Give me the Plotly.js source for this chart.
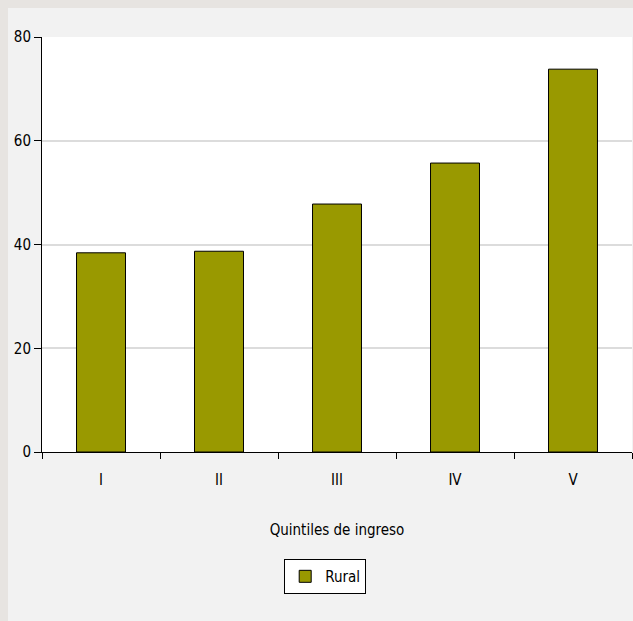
<!DOCTYPE html>
<html>
<head>
<meta charset="utf-8">
<script src="https://cdn.plot.ly/plotly-3.0.1.min.js"></script>
<style>
html,body{margin:0;padding:0;background:#e7e4e1;width:633px;height:621px;overflow:hidden;}
#chart{position:absolute;left:8px;top:8px;width:625px;height:613px;}
</style>
</head>
<body>
<div id="chart"></div>
<script>
const categories = ["I", "II", "III", "IV", "V"];
const rural = [38.4, 38.7, 47.8, 55.7, 73.8];
const seriesName = "Rural";
const xTitle = "Quintiles de ingreso";

const FONT = "'DejaVu Sans Condensed', 'Liberation Sans Narrow', 'Liberation Sans', Arial, sans-serif";

const trace = {
  type: "bar",
  x: categories,
  y: rural,
  name: seriesName,
  width: 0.415,
  marker: {color: "#999900", line: {color: "#000000", width: 1}},
  showlegend: true
};

const layout = {
  width: 625, height: 613,
  paper_bgcolor: "#f2f2f2",
  plot_bgcolor: "#ffffff",
  margin: {l: 34, r: 1, t: 29, b: 169},
  font: {family: FONT, size: 15, color: "#000000"},
  bargap: 0,
  xaxis: {
    type: "category",
    range: [-0.5, 4.5],
    tickson: "boundaries",
    ticks: "outside", ticklen: 6, tickcolor: "#000", tickwidth: 1,
    showline: true, linecolor: "#000", linewidth: 1,
    showgrid: false, zeroline: false,
    ticklabelstandoff: 14,
    tickfont: {family: FONT, size: 15},
    title: {text: xTitle, font: {family: FONT, size: 15}, standoff: 36}
  },
  yaxis: {
    range: [0, 80],
    tickvals: [0, 20, 40, 60, 80],
    ticks: "outside", ticklen: 7, tickcolor: "#000", tickwidth: 1,
    showline: true, linecolor: "#000", linewidth: 1,
    showgrid: true, gridcolor: "#dcdcdc", gridwidth: 2,
    zeroline: false,
    tickfont: {family: FONT, size: 15}
  },
  showlegend: true,
  legend: {
    x: 0.48, xanchor: "center",
    y: -0.258, yanchor: "top",
    itemwidth: 30,
    bgcolor: "#ffffff", bordercolor: "#000000", borderwidth: 1,
    font: {family: FONT, size: 15}
  }
};

Plotly.newPlot("chart", [trace], layout, {displayModeBar: false, staticPlot: true});
</script>
</body>
</html>
